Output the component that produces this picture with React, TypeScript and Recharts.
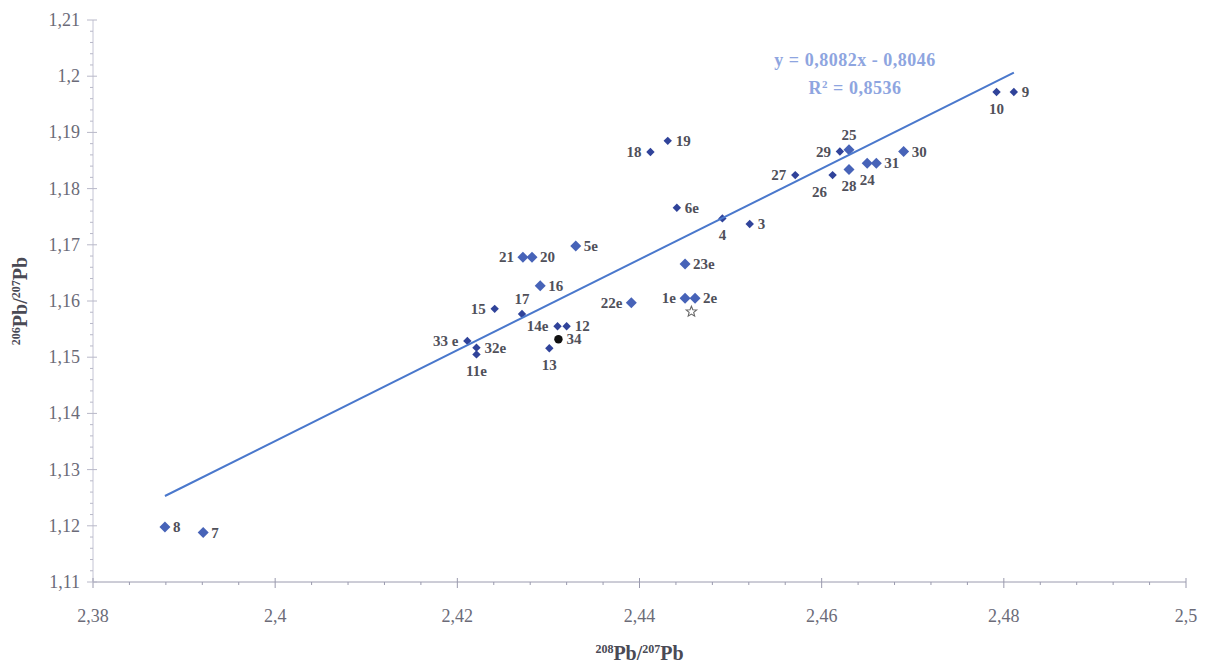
import React from "react";
import { ScatterChart, Scatter, XAxis, YAxis, Label } from "recharts";

// sample ids with their lead isotope ratios
const sampleIds = [
  "1e", "2e", "3", "4", "5e", "6e", "7", "8", "9", "10",
  "11e", "12", "13", "14e", "15", "16", "17", "18", "19", "20",
  "21", "22e", "23e", "24", "25", "26", "27", "28", "29", "30",
  "31", "32e", "33 e", "34",
];
const pb208_207 = [
  2.445, 2.4461, 2.4521, 2.4491, 2.433, 2.4441, 2.3921, 2.3879, 2.4811, 2.4792,
  2.4221, 2.432, 2.4301, 2.431, 2.4241, 2.4291, 2.4271, 2.4412, 2.4431, 2.4282,
  2.4272, 2.4391, 2.445, 2.465, 2.463, 2.4612, 2.4571, 2.463, 2.462, 2.469,
  2.466, 2.4221, 2.4211, 2.4311,
];
const pb206_207 = [
  1.1605, 1.1605, 1.1737, 1.1747, 1.1698, 1.1766, 1.1188, 1.1198, 1.1972, 1.1972,
  1.1505, 1.1555, 1.1516, 1.1555, 1.1586, 1.1627, 1.1577, 1.1865, 1.1885, 1.1678,
  1.1678, 1.1597, 1.1666, 1.1845, 1.1869, 1.1824, 1.1824, 1.1834, 1.1866, 1.1866,
  1.1845, 1.1517, 1.1529, 1.1532,
];

// reference point drawn as a star
const starX = [2.4457];
const starY = [1.1581];

// fitted line from the chart
const slope = 0.8082;
const intercept = -0.8046;
const rSquared = 0.8536;

const xTicks = [2.38, 2.4, 2.42, 2.44, 2.46, 2.48, 2.5];
const yTicks = [1.11, 1.12, 1.13, 1.14, 1.15, 1.16, 1.17, 1.18, 1.19, 1.2, 1.21];

// styling per sample
const bigMarkers = new Set(["1e", "2e", "5e", "7", "8", "16", "20", "21", "22e", "23e", "24", "25", "28", "30", "31"]);
const labelSide: Record<string, string> = {
  "18": "left", "21": "left", "15": "left", "22e": "left", "1e": "left", "14e": "left",
  "33 e": "left", "29": "left", "27": "left",
  "10": "below", "4": "below", "13": "below", "11e": "below", "28": "below", "24": "below",
  "26": "belowLeft",
  "17": "above", "25": "above",
};

const fmt = (v: number) => String(Number(v.toFixed(4))).replace(".", ",");

const subdivide = (major: number[], n: number) => {
  const out: number[] = [];
  for (let i = 0; i < major.length - 1; i++) {
    const step = (major[i + 1] - major[i]) / n;
    for (let k = 0; k < n; k++) out.push(Number((major[i] + k * step).toFixed(4)));
  }
  out.push(major[major.length - 1]);
  return out;
};
const isMajor = (v: number, major: number[]) => major.some((m) => Math.abs(m - v) < 1e-6);

const samples = sampleIds.map((id, i) => ({ id, x: pb208_207[i], y: pb206_207[i] }));
const stars = starX.map((x, i) => ({ id: "", x, y: starY[i] }));
const xMin = Math.min(...pb208_207);
const xMax = Math.max(...pb208_207);
const trend = [xMin, xMax].map((x) => ({ x, y: slope * x + intercept }));

const serif = "'Liberation Serif', 'Times New Roman', serif";
const labelColor = "#50505a";

const SampleShape = (props: any) => {
  const { cx, cy, payload } = props;
  const id: string = payload.id;
  const r = bigMarkers.has(id) ? 5.5 : 4.2;
  const fill = id === "34" ? "#111" : bigMarkers.has(id) ? "#4763b8" : "#30439a";
  const side = labelSide[id] || "right";
  let tx = cx + 8;
  let ty = cy + 5;
  let anchor: "start" | "end" | "middle" = "start";
  if (side === "left") { tx = cx - 9; anchor = "end"; }
  if (side === "below") { tx = cx; ty = cy + 22; anchor = "middle"; }
  if (side === "belowLeft") { tx = cx - 13; ty = cy + 22; anchor = "middle"; }
  if (side === "above") { tx = cx; ty = cy - 10; anchor = "middle"; }
  return (
    <g>
      {id === "34" ? (
        <circle cx={cx} cy={cy} r={4.2} fill={fill} />
      ) : (
        <polygon points={`${cx},${cy - r} ${cx + r},${cy} ${cx},${cy + r} ${cx - r},${cy}`} fill={fill} />
      )}
      <text x={tx} y={ty} textAnchor={anchor} fontFamily={serif} fontWeight="bold" fontSize={15} fill={labelColor} style={{ whiteSpace: "pre" }}>
        {id}
      </text>
    </g>
  );
};

const StarShape = (props: any) => {
  const { cx, cy } = props;
  const pts: string[] = [];
  for (let i = 0; i < 10; i++) {
    const a = -Math.PI / 2 + (i * Math.PI) / 5;
    const rr = i % 2 === 0 ? 5.5 : 2.4;
    pts.push(`${cx + rr * Math.cos(a)},${cy + rr * Math.sin(a)}`);
  }
  return <polygon points={pts.join(" ")} fill="#fff" stroke="#666" strokeWidth={1.1} />;
};

const XTick = (props: any) => {
  const { x, y, payload } = props;
  const major = isMajor(payload.value, xTicks);
  return (
    <g>
      <line x1={x} x2={x} y1={y - (major ? 4 : 0)} y2={y + (major ? 6 : 3)} stroke="#9a9aae" />
      {major && (
        <text x={x} y={y + 40} textAnchor="middle" fontFamily={serif} fontSize={18} fill="#6b6b78">
          {fmt(payload.value)}
        </text>
      )}
    </g>
  );
};

const YTick = (props: any) => {
  const { x, y, payload } = props;
  const major = isMajor(payload.value, yTicks);
  return (
    <g>
      <line x1={x - (major ? 6 : 3)} x2={x + (major ? 4 : 0)} y1={y} y2={y} stroke="#b8b8c8" />
      {major && (
        <text x={x - 13} y={y + 6} textAnchor="end" fontFamily={serif} fontSize={18} fill="#6b6b78">
          {fmt(payload.value)}
        </text>
      )}
    </g>
  );
};

const XTitle = (props: any) => {
  const { viewBox } = props;
  const cx = viewBox.x + viewBox.width / 2;
  return (
    <text x={cx} y={viewBox.y + 78} textAnchor="middle" fontFamily={serif} fontWeight="bold" fontSize={20} fill="#4a4a55">
      <tspan fontSize={12} dy={-7}>208</tspan>
      <tspan dy={7}>Pb/</tspan>
      <tspan fontSize={12} dy={-7}>207</tspan>
      <tspan dy={7}>Pb</tspan>
    </text>
  );
};

const YTitle = (props: any) => {
  const { viewBox } = props;
  const cy = viewBox.y + viewBox.height / 2;
  const cx = 27;
  return (
    <text x={cx} y={cy} transform={`rotate(-90, ${cx}, ${cy})`} textAnchor="middle" fontFamily={serif} fontWeight="bold" fontSize={20} fill="#4a4a55">
      <tspan fontSize={12} dy={-7}>206</tspan>
      <tspan dy={7}>Pb/</tspan>
      <tspan fontSize={12} dy={-7}>207</tspan>
      <tspan dy={7}>Pb</tspan>
    </text>
  );
};

export default function App() {
  return (
    <div style={{ position: "absolute", left: 0, top: 0, width: 1209, height: 665, background: "#fff" }}>
      <ScatterChart width={1209} height={665} margin={{ top: 20, right: 23, left: 0, bottom: 0 }}>
        <XAxis
          type="number"
          dataKey="x"
          domain={[2.38, 2.5]}
          ticks={subdivide(xTicks, 5)}
          interval={0}
          tick={<XTick />}
          tickLine={false}
          tickSize={0}
          tickMargin={0}
          height={83}
          axisLine={{ stroke: "#9a9aae" }}
          allowDataOverflow
        >
          <Label content={<XTitle />} />
        </XAxis>
        <YAxis
          type="number"
          dataKey="y"
          domain={[1.11, 1.21]}
          ticks={subdivide(yTicks, 5)}
          interval={0}
          tick={<YTick />}
          tickLine={false}
          tickSize={0}
          tickMargin={0}
          width={93}
          axisLine={{ stroke: "#c4c4d4" }}
          allowDataOverflow
        >
          <Label content={<YTitle />} />
        </YAxis>
        <Scatter data={samples} shape={<SampleShape />} isAnimationActive={false} />
        <Scatter data={stars} shape={<StarShape />} isAnimationActive={false} />
        <Scatter
          data={trend}
          line={{ stroke: "#4a78cc", strokeWidth: 2 }}
          lineType="joint"
          shape={() => <g />}
          isAnimationActive={false}
        />
      </ScatterChart>
      <div
        style={{
          position: "absolute",
          left: 755,
          top: 46,
          width: 200,
          textAlign: "center",
          fontFamily: serif,
          fontWeight: "bold",
          fontSize: 18,
          letterSpacing: 0.5,
          color: "#8ea5e0",
          lineHeight: "28px",
        }}
      >
        <div>y = {fmt(slope)}x - {fmt(-intercept)}</div>
        <div>
          R<sup style={{ fontSize: 11, verticalAlign: "6px", lineHeight: 0 }}>2</sup> = {fmt(rSquared)}
        </div>
      </div>
    </div>
  );
}
